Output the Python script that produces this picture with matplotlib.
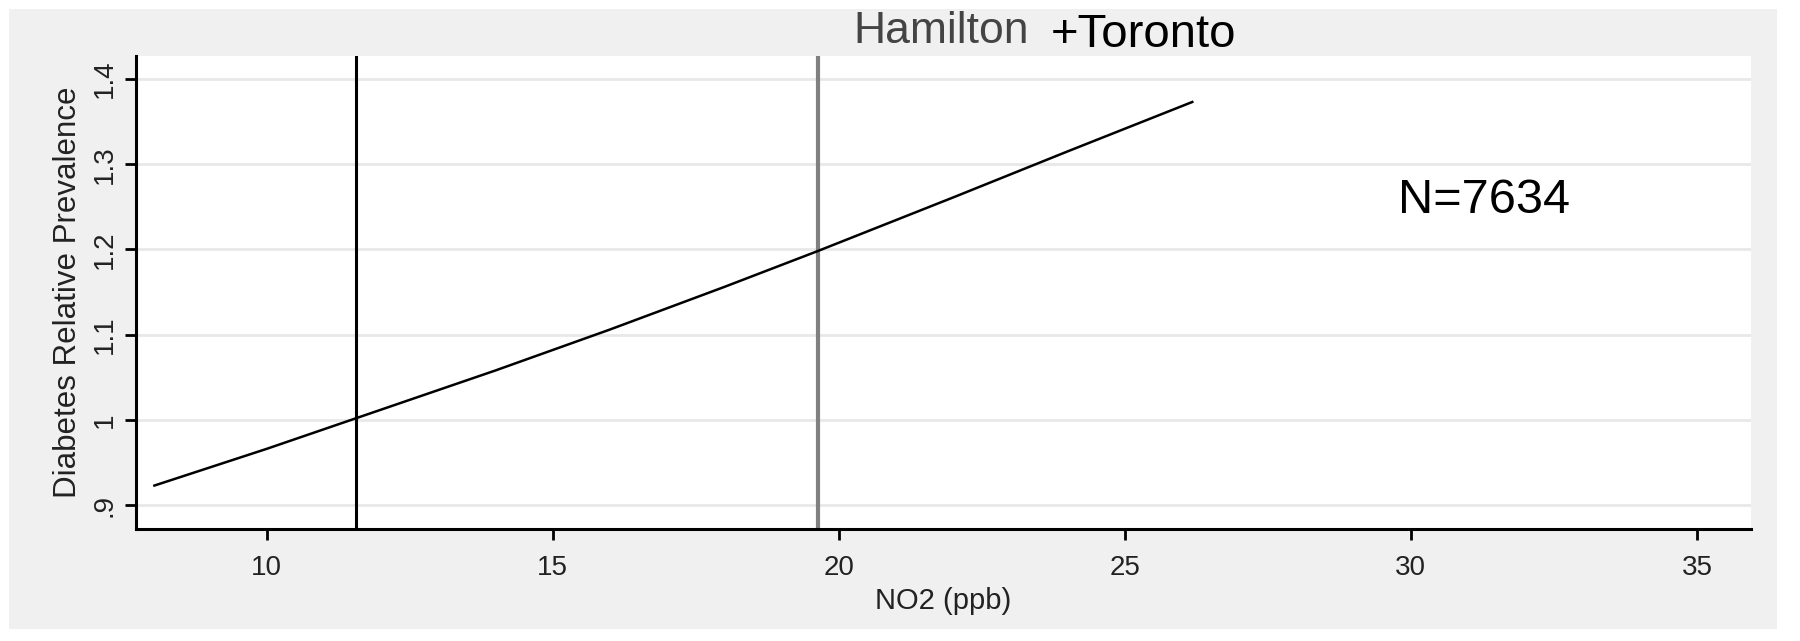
import matplotlib.pyplot as plt
from matplotlib.patches import Rectangle

plt.rcParams['font.family'] = ['Liberation Sans', 'DejaVu Sans']

# NO2 exposure vs relative prevalence curve
no2 = [8.04, 10, 12, 14, 16, 18, 19.63, 22, 24, 26.18]
rel_prev = [0.923, 0.966, 1.012, 1.058, 1.106, 1.156, 1.198, 1.261, 1.315, 1.373]

# reference lines for the two cities
hamilton_no2 = 11.56
toronto_no2 = 19.63

xticks = [10, 15, 20, 25, 30, 35]
yticks = [0.9, 1.0, 1.1, 1.2, 1.3, 1.4]
ytick_labels = ['.9', '1', '1.1', '1.2', '1.3', '1.4']

fig = plt.figure(figsize=(18, 6.41), dpi=100, facecolor='white')
fig.patches.append(Rectangle((0.005, 0.019), 0.982, 0.967, transform=fig.transFigure,
                             facecolor='#f0f0f0', edgecolor='none', zorder=-1))

ax = fig.add_axes([0.0753, 0.1747, 0.8973, 0.738])
ax.set_facecolor('white')

ax.plot(no2, rel_prev, color='black', lw=1.8, zorder=3)
ax.axvline(hamilton_no2, color='black', lw=2.2, zorder=2)
ax.axvline(toronto_no2, color='#808080', lw=3, zorder=2)

ax.set_xlim(7.71, 35.94)
ax.set_ylim(0.872, 1.427)
ax.set_xticks(xticks)
ax.set_yticks(yticks)
ax.set_yticklabels(ytick_labels, rotation=90, va='center')
ax.grid(axis='y', color='#e8e8e8', lw=2)
ax.set_axisbelow(True)

for s in ['top', 'right']:
    ax.spines[s].set_visible(False)
for s in ['left', 'bottom']:
    ax.spines[s].set_linewidth(2.2)
    ax.spines[s].set_color('black')

ax.tick_params(axis='both', direction='out', length=8, width=2,
               labelsize=20, colors='black', labelcolor='#222222')
ax.tick_params(axis='x', pad=11)
ax.tick_params(axis='y', pad=5)

ax.set_xlabel('NO2 (ppb)', fontsize=21, color='#222222', labelpad=4)
ax.set_ylabel('Diabetes Relative Prevalence', fontsize=22.5, color='#222222', labelpad=6)

ax.text(29.78, 1.257, 'N=7634', fontsize=35, color='black', va='center', ha='left')

fig.text(0.474, 0.933, 'Hamilton', fontsize=32, color='#444444', ha='left', va='baseline')
fig.text(0.584, 0.927, '+Toronto', fontsize=34, color='black', ha='left', va='baseline')

fig.savefig('out.png', dpi=100, facecolor='white')
